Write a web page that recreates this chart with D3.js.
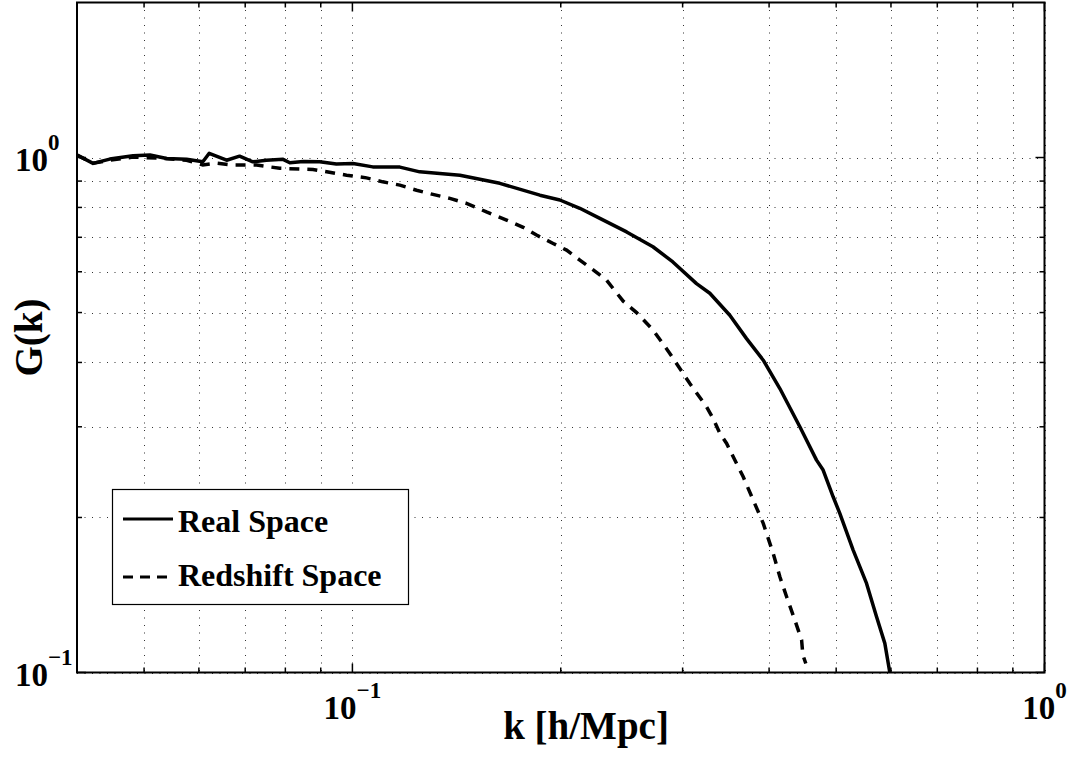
<!DOCTYPE html>
<html>
<head>
<meta charset="utf-8">
<script src="https://d3js.org/d3.v7.min.js"></script>
<style>
  body { margin: 0; background: #fff; }
  text { font-family: "Liberation Serif", "Times New Roman", serif; font-weight: bold; fill: #000; }
</style>
</head>
<body>
<div id="vis"></div>
<script>
// values
const kReal = [0.0400, 0.0422, 0.0446, 0.0482, 0.0510, 0.0539, 0.0576, 0.0608, 0.0621, 0.0658, 0.0687, 0.0718, 0.0751, 0.0794, 0.0812, 0.0849, 0.0897, 0.0948, 0.1002, 0.1070, 0.1171, 0.1251, 0.1430, 0.1633, 0.1866, 0.1994, 0.2131, 0.2278, 0.2490, 0.2718, 0.2904, 0.3142, 0.3284, 0.3510, 0.3711, 0.3923, 0.4146, 0.4431, 0.4684, 0.4788, 0.4950, 0.5061, 0.5291, 0.5532, 0.5719, 0.5879, 0.5977];
const gReal = [1.011, 0.974, 0.993, 1.008, 1.011, 0.996, 0.992, 0.981, 1.019, 0.988, 1.006, 0.981, 0.988, 0.992, 0.977, 0.982, 0.981, 0.971, 0.974, 0.959, 0.958, 0.938, 0.924, 0.891, 0.845, 0.827, 0.797, 0.762, 0.717, 0.671, 0.627, 0.569, 0.545, 0.494, 0.445, 0.404, 0.356, 0.300, 0.2585, 0.2472, 0.2194, 0.2037, 0.1729, 0.1489, 0.1283, 0.1139, 0.1000];

const kRedshift = [0.0400, 0.0422, 0.0446, 0.0482, 0.0527, 0.0576, 0.0608, 0.0636, 0.0672, 0.0727, 0.0785, 0.0877, 0.0918, 0.0981, 0.1048, 0.1106, 0.1171, 0.1238, 0.1307, 0.1383, 0.1462, 0.1562, 0.1670, 0.1765, 0.1845, 0.1950, 0.2039, 0.2131, 0.2228, 0.2329, 0.2462, 0.2574, 0.2720, 0.2875, 0.3073, 0.3249, 0.3321, 0.3396, 0.3473, 0.3550, 0.3670, 0.3794, 0.3923, 0.4055, 0.4146, 0.4240, 0.4358, 0.4457, 0.4476, 0.4520];
const gRedshift = [1.011, 0.975, 0.988, 1.002, 0.997, 0.988, 0.967, 0.975, 0.967, 0.967, 0.953, 0.948, 0.938, 0.924, 0.913, 0.897, 0.884, 0.864, 0.848, 0.833, 0.815, 0.784, 0.756, 0.732, 0.707, 0.681, 0.661, 0.632, 0.605, 0.578, 0.526, 0.500, 0.462, 0.4165, 0.364, 0.328, 0.3113, 0.2912, 0.2785, 0.2623, 0.2399, 0.2162, 0.1948, 0.1703, 0.1534, 0.1403, 0.1264, 0.1156, 0.1081, 0.1041];

const seriesNames = ["Real Space", "Redshift Space"];
const xMajor = [0.1, 1];
const xMajorExp = ["\u22121", "0"];
const xMinor = [0.05, 0.06, 0.07, 0.08, 0.09, 0.2, 0.3, 0.4, 0.5, 0.6, 0.7, 0.8, 0.9];
const yMajor = [0.1, 1];
const yMajorExp = ["\u22121", "0"];
const yMinor = [0.2, 0.3, 0.4, 0.5, 0.6, 0.7, 0.8, 0.9];
const xTitle = "k [h/Mpc]";
const yTitle = "G(k)";

const W = 1075, H = 757;
const L = 77, R = 1044.5, T = 2.5, B = 672.5;

const svg = d3.select("#vis").append("svg").attr("width", W).attr("height", H);

const x = d3.scaleLog().domain([0.04, 1]).range([L, R]);
const y = d3.scaleLog().domain([0.1, 2]).range([B, T]);

svg.append("rect").attr("x", 0).attr("y", 0).attr("width", W).attr("height", H).attr("fill", "#fff");

// grid
const grid = svg.append("g").attr("stroke", "#333").attr("stroke-width", 1).attr("stroke-dasharray", "1,6.5");
xMinor.concat(xMajor).forEach(v => {
  grid.append("line").attr("x1", Math.round(x(v)) + 0.5).attr("x2", Math.round(x(v)) + 0.5).attr("y1", T).attr("y2", B);
});
yMinor.concat(yMajor).forEach(v => {
  grid.append("line").attr("x1", L).attr("x2", R).attr("y1", Math.round(y(v)) + 0.5).attr("y2", Math.round(y(v)) + 0.5);
});

// ticks, inward on all four sides
const ticks = svg.append("g").attr("stroke", "#000").attr("stroke-width", 1.5);
function xTick(v, len) {
  ticks.append("line").attr("x1", x(v)).attr("x2", x(v)).attr("y1", B).attr("y2", B - len);
  ticks.append("line").attr("x1", x(v)).attr("x2", x(v)).attr("y1", T).attr("y2", T + len);
}
function yTick(v, len) {
  ticks.append("line").attr("x1", L).attr("x2", L + len).attr("y1", y(v)).attr("y2", y(v));
  ticks.append("line").attr("x1", R).attr("x2", R - len).attr("y1", y(v)).attr("y2", y(v));
}
xMinor.forEach(v => xTick(v, 5));
xMajor.forEach(v => xTick(v, 9));
yMinor.forEach(v => yTick(v, 5));
yMajor.forEach(v => yTick(v, 9));

// curves
const clip = svg.append("clipPath").attr("id", "clip").append("rect")
  .attr("x", L).attr("y", T).attr("width", R - L).attr("height", B - T + 2);
const line = d3.line().x(d => x(d[0])).y(d => y(d[1]));
const curves = svg.append("g").attr("clip-path", "url(#clip)");
curves.append("path")
  .datum(kReal.map((k, i) => [k, gReal[i]]))
  .attr("d", line).attr("fill", "none").attr("stroke", "#000").attr("stroke-width", 3.5)
  .attr("stroke-linejoin", "round");
curves.append("path")
  .datum(kRedshift.map((k, i) => [k, gRedshift[i]]))
  .attr("d", line).attr("fill", "none").attr("stroke", "#000").attr("stroke-width", 3.5)
  .attr("stroke-dasharray", "10,8");

// frame
svg.append("rect").attr("x", L).attr("y", T).attr("width", R - L).attr("height", B - T)
  .attr("fill", "none").attr("stroke", "#000").attr("stroke-width", 2);

// tick labels
xMajor.forEach((v, i) => {
  const t = svg.append("text").attr("x", x(v)).attr("y", 719).attr("text-anchor", "middle").style("font-size", "33px");
  t.append("tspan").text("10");
  t.append("tspan").attr("dy", -21).style("font-size", "23px").text(xMajorExp[i]);
});
yMajor.forEach((v, i) => {
  const t = svg.append("text").attr("x", 15).attr("y", y(v) + 13).style("font-size", "33px");
  t.append("tspan").text("10");
  t.append("tspan").attr("dy", -21).style("font-size", "23px").text(yMajorExp[i]);
});

// axis titles
svg.append("text").attr("x", 586).attr("y", 739).attr("text-anchor", "middle")
  .style("font-size", "39px").text(xTitle);
svg.append("text").attr("transform", "translate(42," + ((T + B) / 2) + ") rotate(-90)")
  .attr("text-anchor", "middle").style("font-size", "39px").text(yTitle);

// legend
const lg = svg.append("g");
lg.append("rect").attr("x", 112.5).attr("y", 489.5).attr("width", 296).attr("height", 115)
  .attr("fill", "#fff").attr("stroke", "#000").attr("stroke-width", 1.2);
const legendY = [519, 577];
const legendBase = [532, 586];
seriesNames.forEach((name, i) => {
  lg.append("line").attr("x1", 123).attr("x2", 173).attr("y1", legendY[i]).attr("y2", legendY[i])
    .attr("stroke", "#000").attr("stroke-width", 3)
    .attr("stroke-dasharray", i === 1 ? "10,7" : null);
  lg.append("text").attr("x", 178).attr("y", legendBase[i]).style("font-size", "32px").text(name);
});
</script>
</body>
</html>
